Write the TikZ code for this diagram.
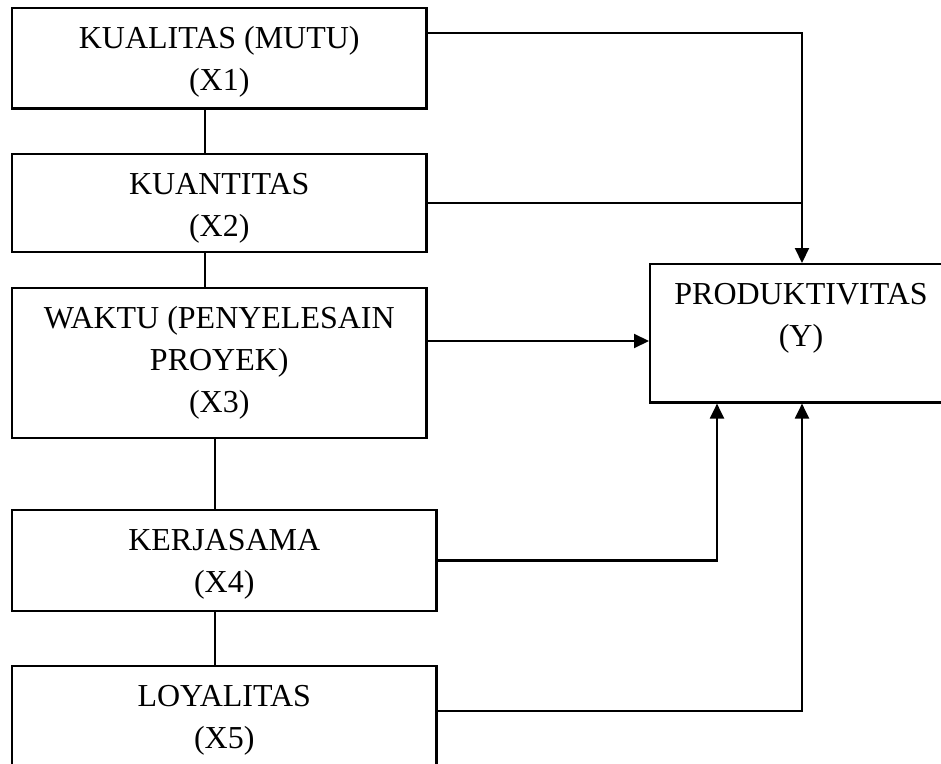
\documentclass[tikz,border=0pt]{standalone}
\usepackage{fontspec}
\setmainfont{Liberation Serif}
\usetikzlibrary{arrows.meta, positioning}

\begin{document}
\begin{tikzpicture}[
    x=0.02cm, y=-0.02cm,
    var/.style={rectangle, draw, line width=1.2pt, inner xsep=0pt, inner ysep=0pt,
                text height=1.65cm, align=center,
                font=\fontsize{18.2}{23.9}\selectfont},
    arrow/.style={-{Triangle[length=0.3cm, width=0.28cm]}, line width=1.2pt},
    link/.style={line width=1.2pt}
]
\useasboundingbox (0,0) rectangle (941,764);
\clip (0,0) rectangle (941,764);

% Variabel bebas
\node[var, anchor=north west, minimum width=8.29cm, text depth=0.36cm] (kualitas) at (11,7) {
    KUALITAS (MUTU)\\(X1)
};
\node[var, below=0.86cm of kualitas.south west, anchor=north west,
      minimum width=8.29cm, text depth=0.32cm] (kuantitas) {
    KUANTITAS\\(X2)
};
\node[var, below=0.68cm of kuantitas.south west, anchor=north west,
      minimum width=8.29cm, text height=2.49cm, text depth=0.51cm] (waktu) {
    WAKTU (PENYELESAIN\\PROYEK)\\(X3)
};
\node[var, below=1.4cm of waktu.south west, anchor=north west,
      minimum width=8.49cm, text depth=0.36cm] (kerjasama) {
    KERJASAMA\\(X4)
};
\node[var, below=1.06cm of kerjasama.south west, anchor=north west,
      minimum width=8.49cm, text depth=0.95cm] (loyalitas) {
    LOYALITAS\\(X5)
};

% Variabel terikat
\node[var, anchor=north west, minimum width=6.04cm, text depth=1.12cm] (produktivitas) at (649,263) {
    PRODUKTIVITAS\\(Y)
};

% Garis antar variabel
\coordinate (c1) at (205,0);
\coordinate (c2) at (215,0);
\draw[link] (kualitas.south -| c1) -- (kuantitas.north -| c1);
\draw[link] (kuantitas.south -| c1) -- (waktu.north -| c1);
\draw[link] (waktu.south -| c2) -- (kerjasama.north -| c2);
\draw[link] (kerjasama.south -| c2) -- (loyalitas.north -| c2);

% Panah ke Y
\coordinate (r1) at (802,33);
\coordinate (r3) at (0,341);
\coordinate (r4) at (717,0);
\coordinate (r5) at (802,711);
\draw[arrow] (kualitas.east |- r1) -- (r1) -- (produktivitas.north -| r1);
\draw[link] (kuantitas.east) -- (kuantitas.east -| r1);
\draw[arrow] (waktu.east |- r3) -- (produktivitas.west |- r3);
\draw[arrow] (kerjasama.east) -| (produktivitas.south -| r4);
\draw[arrow] (loyalitas.east |- r5) -| (produktivitas.south -| r5);

\end{tikzpicture}
\end{document}
